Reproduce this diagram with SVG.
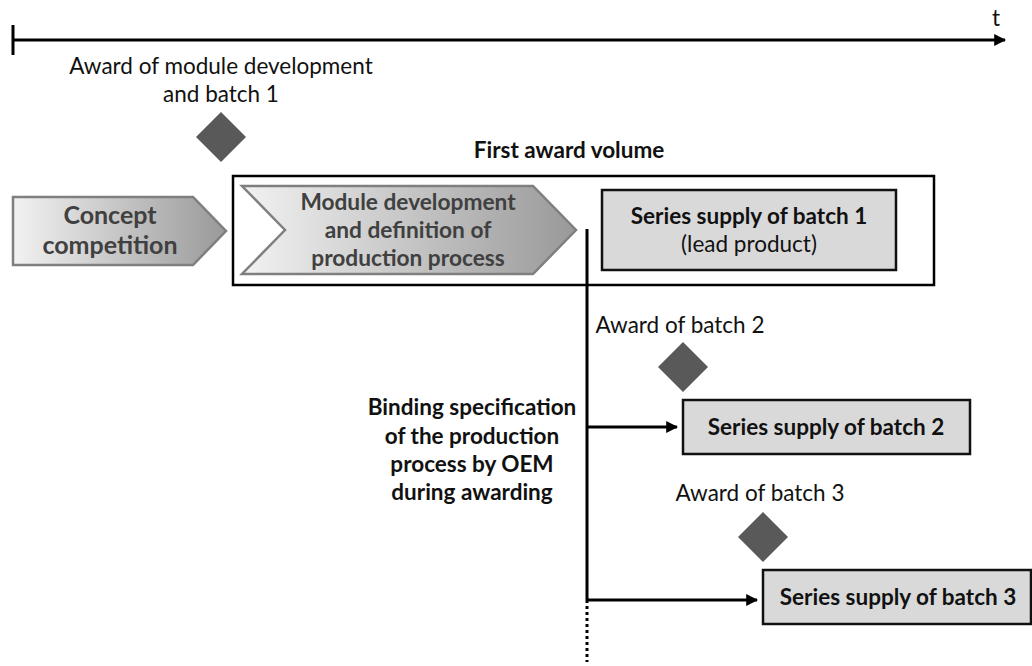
<svg xmlns="http://www.w3.org/2000/svg" width="1032" height="666" viewBox="0 0 1032 666">
  <style>
    text { font-family: Lato, "Liberation Sans", sans-serif; fill: #111; }
    .reg { font-size: 22.5px; }
    .bold { font-size: 22.5px; font-weight: bold; }
    .phase { font-size: 22.7px; font-weight: bold; fill: #404040; }
    .box { fill: #d9d9d9; stroke: #111; stroke-width: 2.5; }
    .chev { stroke: #7f7f7f; stroke-width: 2.5; }
    .ms { fill: #595959; }
    .line { stroke: #000; stroke-width: 3; fill: none; }
  </style>
  <defs>
    <linearGradient id="phaseFill" x1="0" y1="0" x2="1" y2="0">
      <stop offset="0" stop-color="#f2f2f2"/>
      <stop offset="1" stop-color="#999"/>
    </linearGradient>
    <marker id="head" viewBox="0 0 10 10" refX="9" refY="5" markerWidth="4" markerHeight="4" orient="auto" markerUnits="strokeWidth">
      <path d="M0,0 L10,5 L0,10 z" fill="#000"/>
    </marker>
  </defs>

  <!-- time axis -->
  <g id="axis">
    <line class="line" x1="13" y1="40" x2="1005" y2="40" marker-end="url(#head)"/>
    <line class="line" x1="13" y1="25" x2="13" y2="55"/>
    <text class="reg" x="992" y="26">t</text>
  </g>

  <!-- award milestone 1 -->
  <g id="award1">
    <text class="reg" x="221" y="74" text-anchor="middle">Award of module development</text>
    <text class="reg" x="221" y="102" text-anchor="middle">and batch 1</text>
    <polygon class="ms" points="221,112 246,137 221,162 196,137"/>
  </g>

  <!-- first award volume frame -->
  <g id="firstAward">
    <text class="bold" x="569" y="158" text-anchor="middle">First award volume</text>
    <rect x="233" y="176" width="701" height="109" fill="none" stroke="#000" stroke-width="2.5"/>
  </g>

  <!-- concept competition phase -->
  <g id="concept">
    <polygon class="chev" fill="url(#phaseFill)" points="13,197 193,197 226,231 193,265 13,265"/>
    <text class="phase" x="110" y="224" text-anchor="middle" style="font-size:25px">Concept</text>
    <text class="phase" x="110" y="254" text-anchor="middle" style="font-size:25px">competition</text>
  </g>

  <!-- module development phase -->
  <g id="module">
    <polygon class="chev" fill="url(#phaseFill)" points="242,186 533,186 576,230 533,274 242,274 285,230"/>
    <text class="phase" x="408" y="210" text-anchor="middle">Module development</text>
    <text class="phase" x="408" y="238" text-anchor="middle">and definition of</text>
    <text class="phase" x="408" y="266" text-anchor="middle">production process</text>
  </g>

  <!-- batch 1 -->
  <g id="batch1">
    <rect class="box" x="602" y="190" width="294" height="80"/>
    <text class="bold" x="749" y="224" text-anchor="middle">Series supply of batch 1</text>
    <text class="reg" x="749" y="252" text-anchor="middle">(lead product)</text>
  </g>

  <!-- award milestone 2 -->
  <g id="award2">
    <text class="reg" x="680" y="333" text-anchor="middle">Award of batch 2</text>
    <polygon class="ms" points="683,342 708,367 683,392 658,367"/>
  </g>

  <!-- batch 2 -->
  <g id="batch2">
    <rect class="box" x="683" y="400" width="287" height="54"/>
    <text class="bold" x="826" y="435" text-anchor="middle">Series supply of batch 2</text>
  </g>

  <!-- binding specification note -->
  <g id="binding">
    <text class="bold" x="472" y="415" text-anchor="middle">Binding specification</text>
    <text class="bold" x="472" y="444" text-anchor="middle">of the production</text>
    <text class="bold" x="472" y="472" text-anchor="middle">process by OEM</text>
    <text class="bold" x="472" y="500" text-anchor="middle">during awarding</text>
  </g>

  <!-- award milestone 3 -->
  <g id="award3">
    <text class="reg" x="760" y="501" text-anchor="middle">Award of batch 3</text>
    <polygon class="ms" points="763,512 788,537 763,562 738,537"/>
  </g>

  <!-- batch 3 -->
  <g id="batch3">
    <rect class="box" x="763" y="570" width="268" height="54"/>
    <text class="bold" x="898" y="605" text-anchor="middle">Series supply of batch 3</text>
  </g>

  <!-- connectors -->
  <g id="connectors">
    <line class="line" x1="587" y1="229" x2="587" y2="600"/>
    <line x1="587" y1="600" x2="587" y2="662" stroke="#000" stroke-width="3" stroke-dasharray="3,3"/>
    <line class="line" x1="587" y1="427" x2="677" y2="427" marker-end="url(#head)"/>
    <line class="line" x1="587" y1="600" x2="757" y2="600" marker-end="url(#head)"/>
  </g>
</svg>
